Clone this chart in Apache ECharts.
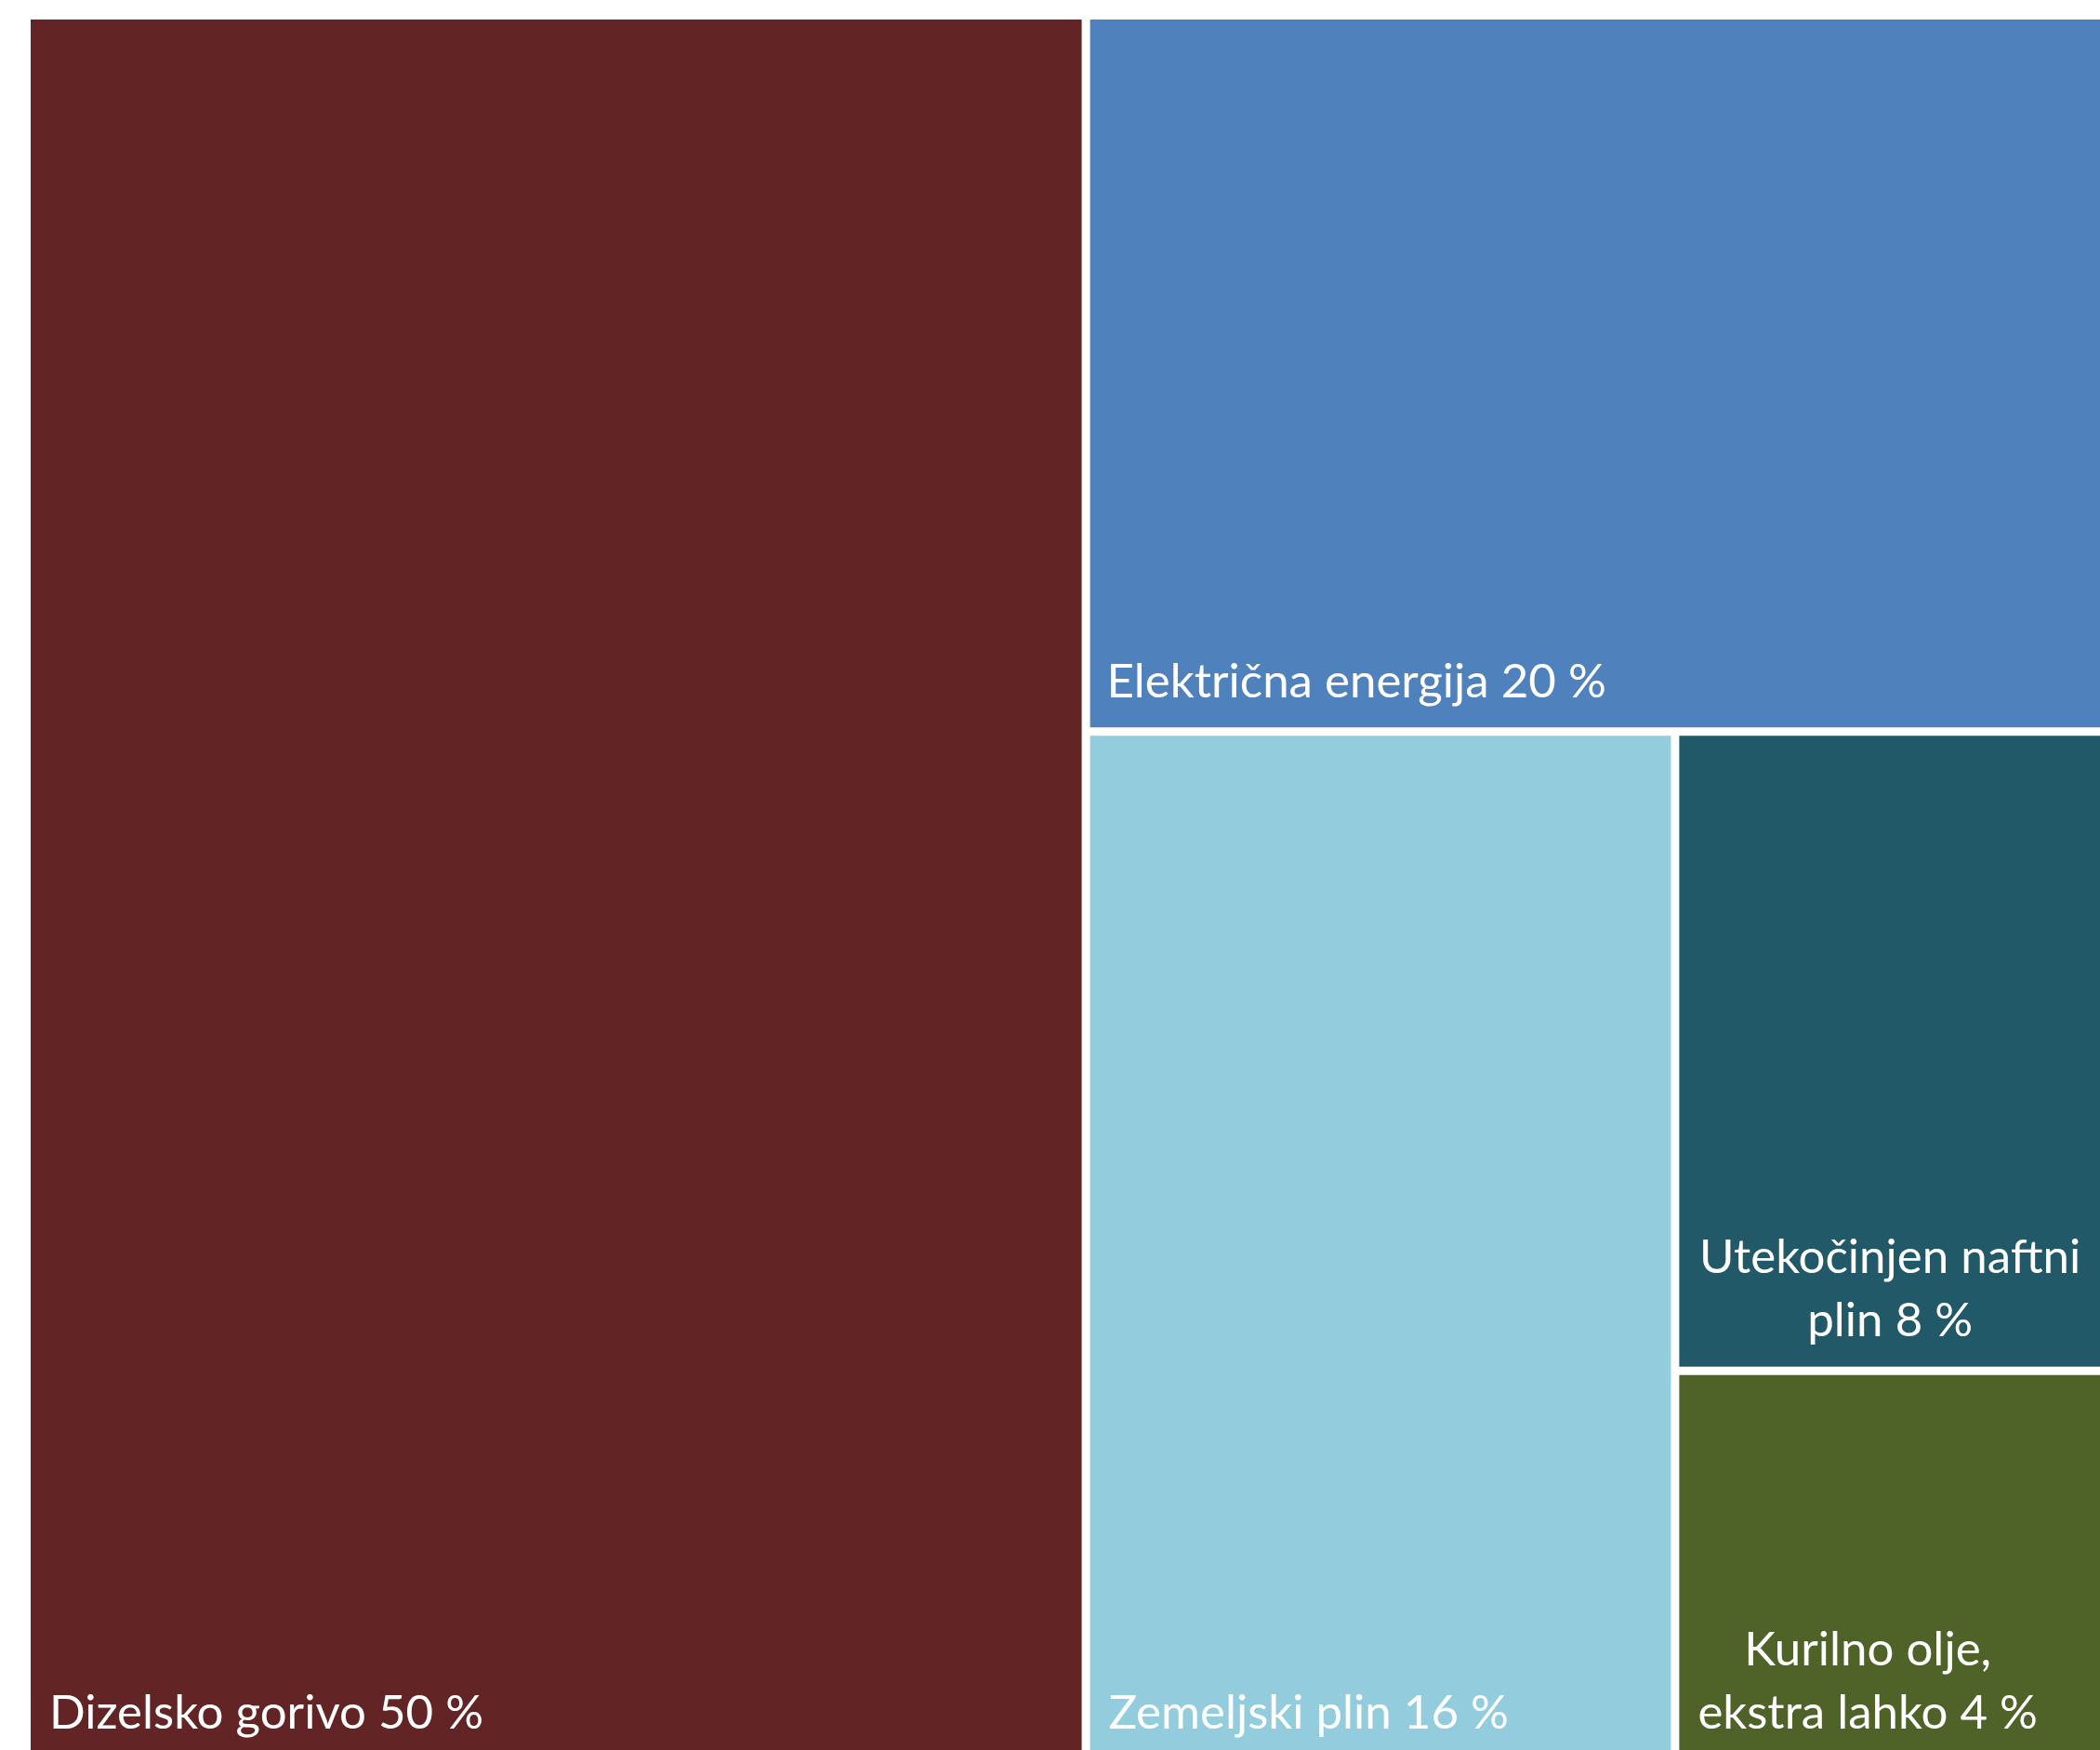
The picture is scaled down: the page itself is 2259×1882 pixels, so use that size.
<!DOCTYPE html>
<html>
<head>
<meta charset="utf-8">
<script src="https://cdn.jsdelivr.net/npm/echarts@6/dist/echarts.min.js"></script>
<style>
html,body{margin:0;padding:0;background:#fff;overflow:hidden;}
#main{width:2259px;height:1882px;}
</style>
</head>
<body>
<div id="main"></div>
<script>
// Categories (as printed)
const categories = ['Dizelsko gorivo', 'Električna energija', 'Zemeljski plin', 'Utekočinjen naftni plin', 'Kurilno olje, ekstra lahko'];
// Percentages printed in the labels
const shownPercent = [50, 20, 16, 8, 4];
// Tile area shares (drive the layout)
const areaShare = [50.47, 20.29, 16.57, 7.85, 4.82];
// Label texts (line breaks as in the picture)
const labelLines = [
  'Dizelsko gorivo 50 %',
  'Električna energija 20 %',
  'Zemeljski plin 16 %',
  'Utekočinjen naftni\nplin 8 %',
  'Kurilno olje,\nekstra lahko 4 %'
];
const colors = ['#632426', '#4F81BD', '#93CDDD', '#215968', '#4F6228'];

const labelBase = {
  show: true, color: '#ffffff', fontFamily: 'Lato', fontSize: 51, lineHeight: 68,
  distance: 0, overflow: 'none'
};
const labelStyles = [
  {position: 'insideBottomLeft', offset: [15, -10], align: 'left'},
  {position: 'insideBottomLeft', offset: [13, -10], align: 'left'},
  {position: 'insideBottomLeft', offset: [15, -10], align: 'left'},
  {position: 'insideBottom', offset: [-11, -10], align: 'center'},
  {position: 'insideBottom', offset: [-35, -10], align: 'center'}
];

const data = categories.map((c, i) => ({
  name: c,
  value: areaShare[i],
  itemStyle: {color: colors[i]},
  label: Object.assign({}, labelBase, labelStyles[i], {formatter: labelLines[i]})
}));

const chart = echarts.init(document.getElementById('main'), null, {renderer: 'canvas'});
chart.setOption({
  animation: false,
  series: [{
    type: 'treemap',
    left: 33, top: 21, width: 2249, height: 1871,
    squareRatio: 1,
    roam: false, nodeClick: false,
    breadcrumb: {show: false},
    sort: 'desc',
    levels: [{itemStyle: {borderWidth: 0, gapWidth: 9}}],
    itemStyle: {borderWidth: 0, gapWidth: 0},
    label: labelBase,
    upperLabel: {show: false},
    data: data
  }]
});
</script>
</body>
</html>
